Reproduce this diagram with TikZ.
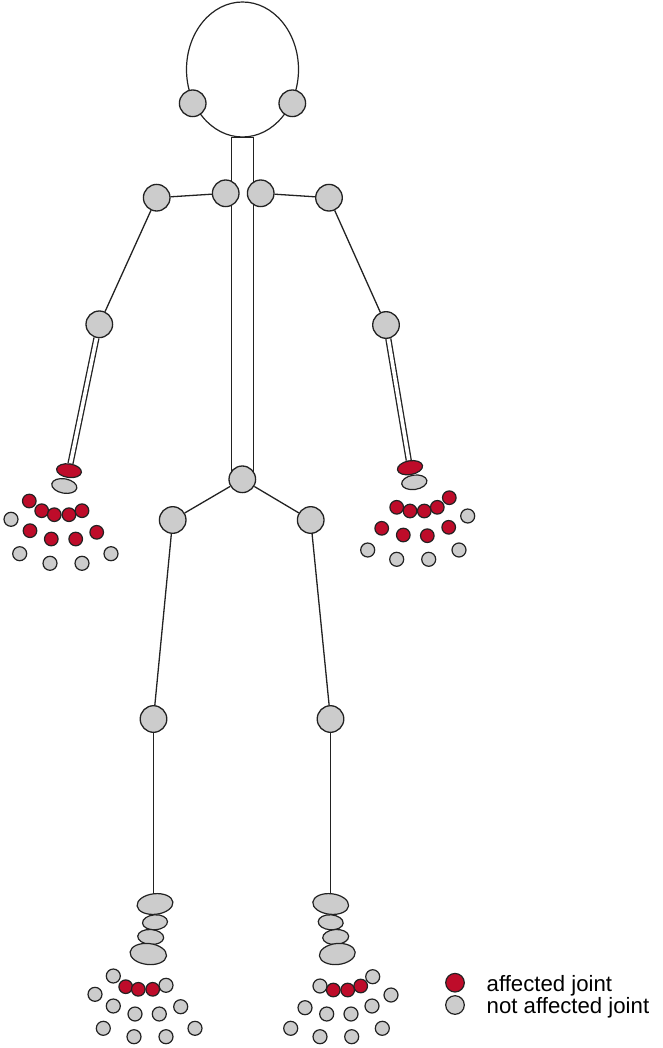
\documentclass[tikz,border=0pt]{standalone}
\usepackage{fontspec}
\newfontfamily\legendfont{Liberation Sans}
\usetikzlibrary{shapes.geometric,backgrounds}
\definecolor{jointgrey}{RGB}{204,204,204}
\definecolor{jointred}{RGB}{190,12,42}
\definecolor{edgec}{RGB}{34,34,34}
\tikzset{
  bone/.style={line width=1.3pt, draw=edgec},
  forearm/.style={bone, double=white, double distance=3.6pt},
  jt/.style={circle, draw=edgec, line width=1.3pt, fill=jointgrey, minimum size=26.6pt, inner sep=0pt},
  sj/.style={circle, draw=edgec, line width=1.2pt, fill=jointgrey, minimum size=14pt, inner sep=0pt},
  sjr/.style={sj, fill=jointred, minimum size=13.6pt},
  ov/.style={ellipse, draw=edgec, line width=1.2pt, fill=jointgrey, inner sep=0pt},
  ovr/.style={ov, fill=jointred},
  keydot/.style={circle, draw=edgec, line width=1.2pt, minimum size=18.6pt, inner sep=0pt},
  keytext/.style={anchor=base west, inner sep=0pt, font=\legendfont\fontsize{22.2}{26}\selectfont}
}
\begin{document}
\begin{tikzpicture}[x=1pt,y=-1pt]
\useasboundingbox (0,0) rectangle (662,1048);

% head and trunk
\node[ellipse, draw=edgec, line width=1.2pt, minimum width=112pt, minimum height=135pt, inner sep=0pt] (head) at (242.5,69.5) {};
\node[rectangle, draw=edgec, line width=1.2pt, minimum width=21.6pt, minimum height=341.5pt, inner sep=0pt] (spine) at (242.5,308.25) {};

% large joints
\node[jt] (earL) at (192.7,103.3) {};
\node[jt] (earR) at (292.3,103.3) {};
\node[jt] (shInL) at (225.7,193.3) {};
\node[jt] (shInR) at (260.7,193.3) {};
\node[jt] (shL) at (156.7,197.7) {};
\node[jt] (shR) at (329,197.7) {};
\node[jt] (elL) at (99.3,324.3) {};
\node[jt] (elR) at (386,325) {};
\node[jt] (pelvis) at (242.3,479.3) {};
\node[jt] (hipL) at (172.7,520) {};
\node[jt] (hipR) at (310.7,520) {};
\node[jt] (knL) at (153.5,719) {};
\node[jt] (knR) at (330.5,719) {};

% wrists
\node[ovr, minimum width=25pt, minimum height=13.6pt, rotate=-8] (wrL1) at (69,470.7) {};
\node[ov, minimum width=25.4pt, minimum height=14.4pt, rotate=-10] (wrL2) at (64.3,486) {};
\node[ovr, minimum width=25.4pt, minimum height=13.8pt, rotate=10] (wrR1) at (410,467.7) {};
\node[ov, minimum width=25.4pt, minimum height=14.4pt, rotate=8] (wrR2) at (414.3,482.3) {};

% left hand
\foreach \x/\y [count=\i] in {29.3/501, 41.7/510.7, 54.3/514.7, 69/514.7, 82/510.7, 30/530.7, 51.3/539, 75.7/539, 96.7/532.3}
  \node[sjr] (lhr\i) at (\x,\y) {};
\foreach \x/\y [count=\i] in {11/519.3, 19.7/553.7, 50/563.3, 82/563.3, 111/553.7}
  \node[sj] (lhg\i) at (\x,\y) {};

% right hand
\foreach \x/\y [count=\i] in {396.7/507.3, 410/511, 424.3/511, 437.3/507.3, 449.3/497.7, 381.7/528.3, 403.3/535, 427.3/535.7, 448.7/527.3}
  \node[sjr] (rhr\i) at (\x,\y) {};
\foreach \x/\y [count=\i] in {467.7/516, 367.7/550, 396.7/559.3, 428.7/559.3, 459/550}
  \node[sj] (rhg\i) at (\x,\y) {};

% left foot
\node[ov, minimum width=36pt, minimum height=20.6pt, rotate=6] (lf1) at (155,904) {};
\node[ov, minimum width=25pt, minimum height=15pt, rotate=4] (lf2) at (155,922.3) {};
\node[ov, minimum width=26pt, minimum height=15pt, rotate=-4] (lf3) at (150.7,937) {};
\node[ov, minimum width=36.6pt, minimum height=21pt, rotate=-6] (lf4) at (148.3,954) {};
\foreach \x/\y [count=\i] in {113.3/976, 166/985.3, 95/994.3, 113.3/1006, 135/1014, 159.3/1014, 180.7/1006.7, 103.3/1028.3, 134/1036.7, 166/1036.7, 195/1028.3}
  \node[sj] (lfg\i) at (\x,\y) {};
\foreach \x/\y [count=\i] in {125.7/986.7, 138.3/989.3, 152.7/989.3}
  \node[sjr] (lfr\i) at (\x,\y) {};

% right foot
\node[ov, minimum width=36pt, minimum height=20.6pt, rotate=-6] (rf1) at (330.7,904) {};
\node[ov, minimum width=25pt, minimum height=15pt, rotate=-4] (rf2) at (330.7,922.3) {};
\node[ov, minimum width=26pt, minimum height=15pt, rotate=4] (rf3) at (335.7,937) {};
\node[ov, minimum width=36pt, minimum height=21pt, rotate=6] (rf4) at (337.3,954) {};
\foreach \x/\y [count=\i] in {320/986, 372.7/976.7, 391/995, 305/1007.7, 326.7/1014, 351/1014, 372/1006, 290.7/1028.3, 320/1036.7, 351.7/1036.7, 382.3/1028.3}
  \node[sj] (rfg\i) at (\x,\y) {};
\foreach \x/\y [count=\i] in {333.3/990, 347.7/990, 360.7/986}
  \node[sjr] (rfr\i) at (\x,\y) {};

% bones, kept behind the joints
\begin{scope}[on background layer]
\draw[bone] (shInL) -- (shL);
\draw[bone] (shInR) -- (shR);
\draw[bone] (shL) -- (elL);
\draw[bone] (shR) -- (elR);
\draw[forearm] (elL) -- (wrL1);
\draw[forearm] (elR) -- (wrR1);
\draw[bone] (pelvis) -- (hipL);
\draw[bone] (pelvis) -- (hipR);
\draw[bone] (hipL) -- (knL);
\draw[bone] (hipR) -- (knR);
\draw[bone] (knL) -- (knL |- lf1.center);
\draw[bone] (knR) -- (knR |- rf1.center);
\end{scope}

% legend
\node[keydot, fill=jointred] (keyA) at (455,982.7) {};
\node[keydot, fill=jointgrey] (keyN) at (455,1005) {};
\node[keytext] (keyAt) at (486.5,991.5) {affected joint};
\node[keytext] (keyNt) at (486.5,1013.3) {not affected joint};
\end{tikzpicture}
\end{document}
